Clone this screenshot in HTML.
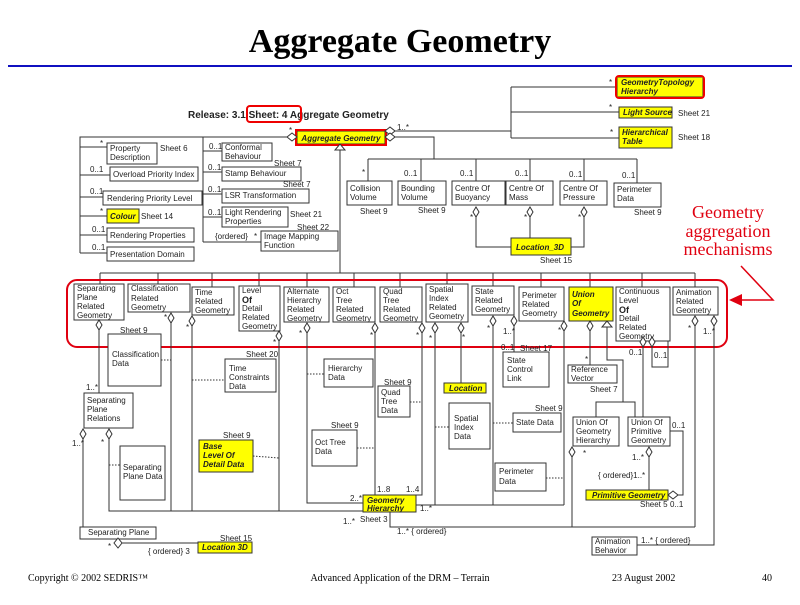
<!DOCTYPE html>
<html><head><meta charset="utf-8"><style>
body{margin:0;background:#fff;}
svg text{font-family:"Liberation Sans",sans-serif;font-size:8px;fill:#222;}
.b{fill:#fff;stroke:#333;stroke-width:1}
.y{fill:#ffff00;stroke:#333;stroke-width:1}
.l{stroke:#333;stroke-width:1;fill:none}
.d{stroke:#333;stroke-width:1;fill:none;stroke-dasharray:1.5,1.5}
.dm{fill:#fff;stroke:#333;stroke-width:1}
.yi{font-style:italic;font-weight:bold}
</style></head><body>
<svg width="800" height="600" xmlns="http://www.w3.org/2000/svg">
<text x="400" y="52" text-anchor="middle" style="font-family:'Liberation Serif',serif;font-size:34px;font-weight:bold;fill:#000">Aggregate Geometry</text>
<line x1="8" y1="66" x2="792" y2="66" stroke="#1010c0" stroke-width="2"/>

<text x="188" y="118" style="font-size:10px;font-weight:bold">Release: 3.1 Sheet: 4 Aggregate Geometry</text>
<rect x="247" y="106" width="54" height="16" rx="3" fill="none" stroke="#e00" stroke-width="2"/>

<rect x="297" y="131" width="88" height="13" class="y" stroke="#e00"/>
<rect x="296" y="130" width="90" height="15" fill="none" stroke="#e00" stroke-width="2"/>
<text x="341" y="141" text-anchor="middle" class="yi">Aggregate Geometry</text>
<polygon points="287,137 292,133 297,137 292,141" class="dm"/>
<polygon points="385,131 390,127 395,131 390,135" class="dm"/>
<polygon points="385,137 390,133 395,137 390,141" class="dm"/>
<polygon points="340,144 335,150 345,150" class="dm"/>
<line x1="340" y1="150" x2="340" y2="273" class="l"/>
<text x="289" y="133">*</text><text x="397" y="130">1..*</text>

<polyline points="287,137 80,137 80,253" class="l"/>
<line x1="80" y1="147" x2="107" y2="147" class="l"/>
<rect x="107" y="143" width="50" height="21" class="b"/><text x="110" y="151">Property</text><text x="110" y="160">Description</text>
<text x="100" y="146">*</text><text x="160" y="151">Sheet 6</text>
<line x1="80" y1="175" x2="110" y2="175" class="l"/><text x="90" y="172">0..1</text>
<rect x="110" y="167" width="88" height="14" class="b"/><text x="113" y="177">Overload Priority Index</text>
<line x1="80" y1="197" x2="103" y2="197" class="l"/><text x="90" y="194">0..1</text>
<rect x="103" y="191" width="99" height="14" class="b"/><text x="107" y="201">Rendering Priority Level</text>
<line x1="80" y1="216" x2="107" y2="216" class="l"/><text x="100" y="214">*</text>
<rect x="107" y="209" width="32" height="14" class="y"/><text x="110" y="219" class="yi">Colour</text>
<text x="141" y="219">Sheet 14</text>
<line x1="80" y1="235" x2="107" y2="235" class="l"/><text x="92" y="232">0..1</text>
<rect x="107" y="228" width="87" height="14" class="b"/><text x="110" y="238">Rendering Properties</text>
<line x1="80" y1="253" x2="107" y2="253" class="l"/><text x="92" y="250">0..1</text>
<rect x="107" y="247" width="87" height="14" class="b"/><text x="110" y="257">Presentation Domain</text>

<line x1="203" y1="137" x2="203" y2="242" class="l"/>
<line x1="203" y1="151" x2="222" y2="151" class="l"/><text x="209" y="149">0..1</text>
<rect x="222" y="143" width="50" height="18" class="b"/><text x="225" y="150">Conformal</text><text x="225" y="159">Behaviour</text>
<text x="274" y="166">Sheet 7</text>
<line x1="203" y1="172" x2="222" y2="172" class="l"/><text x="208" y="170">0..1</text>
<rect x="222" y="167" width="79" height="14" class="b"/><text x="225" y="176">Stamp Behaviour</text>
<text x="283" y="187">Sheet 7</text>
<line x1="203" y1="194" x2="222" y2="194" class="l"/><text x="208" y="192">0..1</text>
<rect x="222" y="189" width="87" height="14" class="b"/><text x="225" y="198">LSR Transformation</text>
<line x1="203" y1="217" x2="222" y2="217" class="l"/><text x="208" y="215">0..1</text>
<rect x="222" y="207" width="66" height="20" class="b"/><text x="225" y="215">Light Rendering</text><text x="225" y="224">Properties</text>
<text x="290" y="217">Sheet 21</text><text x="297" y="230">Sheet 22</text>
<line x1="203" y1="242" x2="261" y2="242" class="l"/><text x="215" y="239">{ordered}</text><text x="254" y="239">*</text>
<rect x="261" y="231" width="77" height="20" class="b"/><text x="264" y="239">Image Mapping</text><text x="264" y="248">Function</text>

<polyline points="395,131 511,131" class="l"/>
<line x1="511" y1="87" x2="511" y2="138" class="l"/>
<line x1="511" y1="87" x2="617" y2="87" class="l"/><line x1="511" y1="112" x2="619" y2="112" class="l"/><line x1="511" y1="138" x2="619" y2="138" class="l"/>
<text x="609" y="85">*</text><text x="609" y="110">*</text><text x="610" y="135">*</text>
<rect x="617" y="77" width="86" height="20" class="y"/><rect x="616" y="76" width="88" height="22" rx="3" fill="none" stroke="#e00" stroke-width="2"/>
<text x="621" y="85" class="yi">GeometryTopology</text><text x="621" y="94" class="yi">Hierarchy</text>
<rect x="619" y="107" width="53" height="11" class="y"/><text x="623" y="115" class="yi">Light Source</text>
<text x="678" y="116">Sheet 21</text>
<rect x="619" y="127" width="53" height="21" class="y"/><text x="622" y="135" class="yi">Hierarchical</text><text x="622" y="144" class="yi">Table</text>
<text x="678" y="140">Sheet 18</text>

<polyline points="395,137 434,137 434,159" class="l"/>
<line x1="368" y1="159" x2="637" y2="159" class="l"/>
<line x1="368" y1="159" x2="368" y2="181" class="l"/><line x1="421" y1="159" x2="421" y2="181" class="l"/><line x1="476" y1="159" x2="476" y2="181" class="l"/><line x1="530" y1="159" x2="530" y2="181" class="l"/><line x1="584" y1="159" x2="584" y2="181" class="l"/><line x1="637" y1="159" x2="637" y2="183" class="l"/>
<text x="362" y="175">*</text><text x="404" y="176">0..1</text><text x="460" y="176">0..1</text><text x="515" y="176">0..1</text><text x="569" y="177">0..1</text><text x="622" y="178">0..1</text>
<rect x="347" y="181" width="45" height="24" class="b"/><text x="350" y="191">Collision</text><text x="350" y="200">Volume</text>
<rect x="398" y="181" width="48" height="24" class="b"/><text x="401" y="191">Bounding</text><text x="401" y="200">Volume</text>
<rect x="452" y="181" width="53" height="24" class="b"/><text x="455" y="191">Centre Of</text><text x="455" y="200">Buoyancy</text>
<rect x="506" y="181" width="47" height="24" class="b"/><text x="509" y="191">Centre Of</text><text x="509" y="200">Mass</text>
<rect x="560" y="181" width="47" height="24" class="b"/><text x="563" y="191">Centre Of</text><text x="563" y="200">Pressure</text>
<rect x="614" y="183" width="47" height="24" class="b"/><text x="617" y="192">Perimeter</text><text x="617" y="201">Data</text>
<text x="360" y="214">Sheet 9</text><text x="418" y="213">Sheet 9</text><text x="634" y="215">Sheet 9</text>
<polygon points="476,207 479,212 476,217 473,212" class="dm"/><polygon points="530,207 533,212 530,217 527,212" class="dm"/><polygon points="584,207 587,212 584,217 581,212" class="dm"/>
<text x="470" y="220">*</text><text x="524" y="220">*</text><text x="578" y="220">*</text>
<polyline points="476,217 476,247 511,247" class="l"/><line x1="530" y1="217" x2="530" y2="238" class="l"/><polyline points="584,217 584,247 571,247" class="l"/>
<rect x="511" y="238" width="60" height="17" class="y"/><text x="516" y="250" class="yi">Location_3D</text>
<text x="540" y="263">Sheet 15</text>

<text x="728" y="218" text-anchor="middle" style="font-family:'Liberation Serif',serif;font-size:18px;fill:#e00010">Geometry</text>
<text x="728" y="237" text-anchor="middle" style="font-family:'Liberation Serif',serif;font-size:18px;fill:#e00010">aggregation</text>
<text x="728" y="255" text-anchor="middle" style="font-family:'Liberation Serif',serif;font-size:18px;fill:#e00010">mechanisms</text>
<polyline points="741,266 773,300 742,300" fill="none" stroke="#e00010" stroke-width="1.5"/>
<polygon points="729,300 742,294 742,306" fill="#e00010"/>

<line x1="100" y1="273" x2="695" y2="273" class="l"/>
<line x1="100" y1="273" x2="100" y2="284" class="l"/><line x1="158" y1="273" x2="158" y2="284" class="l"/><line x1="212" y1="273" x2="212" y2="287" class="l"/><line x1="259" y1="273" x2="259" y2="286" class="l"/><line x1="307" y1="273" x2="307" y2="287" class="l"/><line x1="354" y1="273" x2="354" y2="287" class="l"/><line x1="400" y1="273" x2="400" y2="287" class="l"/><line x1="447" y1="273" x2="447" y2="284" class="l"/><line x1="493" y1="273" x2="493" y2="286" class="l"/><line x1="541" y1="273" x2="541" y2="287" class="l"/><line x1="590" y1="273" x2="590" y2="287" class="l"/><line x1="642" y1="273" x2="642" y2="287" class="l"/><line x1="695" y1="273" x2="695" y2="287" class="l"/>

<rect x="74" y="284" width="50" height="36" class="b"/><text x="77" y="291">Separating</text><text x="77" y="300">Plane</text><text x="77" y="309">Related</text><text x="77" y="318">Geometry</text>
<rect x="128" y="284" width="62" height="28" class="b"/><text x="131" y="291">Classification</text><text x="131" y="301">Related</text><text x="131" y="310">Geometry</text>
<rect x="192" y="287" width="42" height="28" class="b"/><text x="195" y="295">Time</text><text x="195" y="304">Related</text><text x="195" y="313">Geometry</text>
<rect x="239" y="286" width="41" height="45" class="b"/><text x="242" y="293">Level</text><text x="242" y="303" style="font-size:9px;font-weight:bold">Of</text><text x="242" y="311">Detail</text><text x="242" y="320">Related</text><text x="242" y="329">Geometry</text>
<rect x="284" y="287" width="45" height="35" class="b"/><text x="287" y="294">Alternate</text><text x="287" y="303">Hierarchy</text><text x="287" y="312">Related</text><text x="287" y="321">Geometry</text>
<rect x="333" y="287" width="42" height="35" class="b"/><text x="336" y="294">Oct</text><text x="336" y="303">Tree</text><text x="336" y="312">Related</text><text x="336" y="321">Geometry</text>
<rect x="380" y="287" width="42" height="35" class="b"/><text x="383" y="294">Quad</text><text x="383" y="303">Tree</text><text x="383" y="312">Related</text><text x="383" y="321">Geometry</text>
<rect x="426" y="284" width="42" height="38" class="b"/><text x="429" y="292">Spatial</text><text x="429" y="301">Index</text><text x="429" y="310">Related</text><text x="429" y="319">Geometry</text>
<rect x="472" y="286" width="42" height="29" class="b"/><text x="475" y="294">State</text><text x="475" y="303">Related</text><text x="475" y="312">Geometry</text>
<rect x="519" y="287" width="45" height="34" class="b"/><text x="522" y="298">Perimeter</text><text x="522" y="307">Related</text><text x="522" y="316">Geometry</text>
<rect x="569" y="287" width="44" height="34" class="y"/><text x="572" y="297" class="yi">Union</text><text x="572" y="306" class="yi">Of</text><text x="572" y="316" class="yi">Geometry</text>
<rect x="616" y="287" width="54" height="54" class="b"/><text x="619" y="294">Continuous</text><text x="619" y="303">Level</text><text x="619" y="313" style="font-size:9px;font-weight:bold">Of</text><text x="619" y="321">Detail</text><text x="619" y="330">Related</text><text x="619" y="339">Geometry</text>
<rect x="673" y="287" width="45" height="28" class="b"/><text x="676" y="295">Animation</text><text x="676" y="304">Related</text><text x="676" y="313">Geometry</text>

<rect x="67" y="280" width="660" height="67" rx="10" fill="none" stroke="#e00010" stroke-width="2"/>

<polygon points="99,320 102,325 99,330 96,325" class="dm"/>
<line x1="99" y1="330" x2="99" y2="393" class="l"/><text x="86" y="390">1..*</text>
<rect x="108" y="334" width="53" height="52" class="b"/><text x="112" y="357">Classification</text><text x="112" y="366">Data</text>
<text x="120" y="333">Sheet 9</text>
<line x1="161" y1="360" x2="171" y2="360" class="d"/>
<rect x="84" y="393" width="49" height="35" class="b"/><text x="87" y="403">Separating</text><text x="87" y="412">Plane</text><text x="87" y="421">Relations</text>
<polygon points="83,429 86,434 83,439 80,434" class="dm"/><polygon points="109,429 112,434 109,439 106,434" class="dm"/>
<text x="72" y="446">1..*</text><text x="101" y="445">*</text>
<line x1="83" y1="439" x2="83" y2="527" class="l"/>
<polyline points="109,439 109,511 363,511" class="l"/>
<rect x="120" y="446" width="45" height="54" class="b"/><text x="123" y="470">Separating</text><text x="123" y="479">Plane Data</text>
<line x1="109" y1="465" x2="120" y2="465" class="d"/>
<rect x="80" y="527" width="76" height="12" class="b"/><text x="88" y="535">Separating Plane</text>
<polygon points="118,538 122,543 118,548 114,543" class="dm"/><text x="108" y="549">*</text>
<line x1="122" y1="543" x2="198" y2="543" class="l"/>
<text x="148" y="554">{ ordered} 3</text>
<rect x="198" y="542" width="54" height="11" class="y"/><text x="202" y="550" class="yi">Location 3D</text>
<text x="220" y="541">Sheet 15</text>

<polygon points="171,313 174,318 171,323 168,318" class="dm"/><line x1="171" y1="323" x2="171" y2="511" class="l"/><text x="164" y="320">*</text>
<polygon points="192,316 195,321 192,326 189,321" class="dm"/><line x1="192" y1="326" x2="192" y2="511" class="l"/><text x="186" y="330">*</text>
<rect x="225" y="359" width="51" height="33" class="b"/><text x="229" y="371">Time</text><text x="229" y="380">Constraints</text><text x="229" y="389">Data</text>
<text x="246" y="357">Sheet 20</text><line x1="192" y1="380" x2="225" y2="380" class="d"/>
<polygon points="279,331 282,336 279,341 276,336" class="dm"/><line x1="279" y1="341" x2="279" y2="511" class="l"/><text x="273" y="345">*</text>
<rect x="199" y="440" width="54" height="32" class="y"/><text x="203" y="449" class="yi">Base</text><text x="203" y="458" class="yi">Level Of</text><text x="203" y="467" class="yi">Detail Data</text>
<text x="223" y="438">Sheet 9</text><line x1="253" y1="456" x2="279" y2="458" class="d"/>

<polygon points="307,323 310,328 307,333 304,328" class="dm"/><text x="299" y="336">*</text>
<polyline points="307,333 307,503 363,503" class="l"/><text x="350" y="501">2..*</text>
<rect x="324" y="359" width="49" height="28" class="b"/><text x="328" y="371">Hierarchy</text><text x="328" y="380">Data</text>
<line x1="307" y1="374" x2="324" y2="374" class="d"/>
<polygon points="375,323 378,328 375,333 372,328" class="dm"/><text x="370" y="338">*</text>
<line x1="375" y1="333" x2="375" y2="495" class="l"/><text x="377" y="492">1..8</text>
<rect x="312" y="430" width="45" height="36" class="b"/><text x="315" y="445">Oct Tree</text><text x="315" y="454">Data</text>
<text x="331" y="428">Sheet 9</text><line x1="357" y1="448" x2="375" y2="448" class="d"/>
<polygon points="422,323 425,328 422,333 419,328" class="dm"/><text x="416" y="338">*</text>
<polyline points="422,333 422,495 416,495" class="l"/><text x="406" y="492">1..4</text>
<rect x="378" y="386" width="32" height="31" class="b"/><text x="381" y="395">Quad</text><text x="381" y="404">Tree</text><text x="381" y="413">Data</text>
<text x="384" y="385">Sheet 9</text><line x1="410" y1="402" x2="422" y2="402" class="d"/>
<rect x="363" y="495" width="53" height="17" class="y"/><text x="367" y="503" class="yi">Geometry</text><text x="367" y="511" class="yi">Hierarchy</text>
<text x="343" y="524">1..*</text><text x="360" y="522">Sheet 3</text><text x="420" y="511">1..*</text>
<polyline points="390,512 390,527 695,527" class="l"/><text x="397" y="534">1..* { ordered}</text>
<polyline points="416,505 564,505" class="l"/>

<polygon points="435,323 438,328 435,333 432,328" class="dm"/><line x1="435" y1="333" x2="435" y2="505" class="l"/><text x="429" y="341">*</text>
<polygon points="461,323 464,328 461,333 458,328" class="dm"/><line x1="461" y1="333" x2="461" y2="383" class="l"/><text x="462" y="340">*</text>
<rect x="444" y="383" width="42" height="10" class="y"/><text x="449" y="391" class="yi">Location</text>
<rect x="449" y="403" width="41" height="46" class="b"/><text x="454" y="421">Spatial</text><text x="454" y="430">Index</text><text x="454" y="439">Data</text>
<line x1="435" y1="427" x2="449" y2="427" class="d"/>
<polygon points="493,316 496,321 493,326 490,321" class="dm"/><line x1="493" y1="326" x2="493" y2="505" class="l"/><text x="487" y="331">*</text>
<polygon points="514,316 517,321 514,326 511,321" class="dm"/><line x1="514" y1="326" x2="514" y2="352" class="l"/><text x="503" y="334">1..*</text>
<text x="501" y="350">0..1</text><text x="520" y="351">Sheet 17</text>
<rect x="503" y="352" width="46" height="35" class="b"/><text x="507" y="363">State</text><text x="507" y="372">Control</text><text x="507" y="381">Link</text>
<rect x="513" y="413" width="48" height="19" class="b"/><text x="516" y="425">State Data</text>
<text x="535" y="411">Sheet 9</text><line x1="493" y1="423" x2="513" y2="423" class="d"/>
<polygon points="564,321 567,326 564,331 561,326" class="dm"/><line x1="564" y1="331" x2="564" y2="505" class="l"/><text x="558" y="333">*</text>
<rect x="495" y="463" width="51" height="28" class="b"/><text x="499" y="474">Perimeter</text><text x="499" y="484">Data</text>
<line x1="546" y1="478" x2="564" y2="478" class="d"/>

<polygon points="590,321 593,326 590,331 587,326" class="dm"/><line x1="590" y1="331" x2="590" y2="365" class="l"/><text x="585" y="362">*</text>
<rect x="568" y="365" width="49" height="18" class="b"/><text x="571" y="372">Reference</text><text x="571" y="381">Vector</text>
<text x="590" y="392">Sheet 7</text>
<polygon points="607,321 602,327 612,327" class="dm"/>
<polyline points="607,327 607,360 623,360 623,402" class="l"/>
<polyline points="596,417 596,402 635,402 635,417" class="l"/>
<rect x="573" y="417" width="46" height="29" class="b"/><text x="576" y="425">Union Of</text><text x="576" y="434">Geometry</text><text x="576" y="443">Hierarchy</text>
<rect x="628" y="417" width="42" height="29" class="b"/><text x="631" y="425">Union Of</text><text x="631" y="434">Primitive</text><text x="631" y="443">Geometry</text>
<polygon points="643,337 646,342 643,347 640,342" class="dm"/><line x1="643" y1="347" x2="643" y2="417" class="l"/><text x="629" y="355">0..1</text>
<polygon points="652,337 655,342 652,347 649,342" class="dm"/><polyline points="652,347 652,367 668,367 668,341" class="l"/><text x="654" y="358">0..1</text>
<polygon points="572,447 575,452 572,457 569,452" class="dm"/><polyline points="572,457 572,527" class="l"/><text x="583" y="456">*</text>
<polygon points="649,447 652,452 649,457 646,452" class="dm"/><line x1="649" y1="457" x2="649" y2="490" class="l"/><text x="632" y="460">1..*</text>
<text x="598" y="478">{ ordered}1..*</text>
<rect x="586" y="490" width="82" height="10" class="y"/><text x="592" y="498" class="yi">Primitive Geometry</text>
<polygon points="668,495 673,491 678,495 673,499" class="dm"/><polyline points="678,495 683,495 683,431 670,431" class="l"/>
<text x="672" y="428">0..1</text><text x="670" y="507">0..1</text><text x="640" y="507">Sheet 5</text>
<polygon points="695,316 698,321 695,326 692,321" class="dm"/><line x1="695" y1="326" x2="695" y2="527" class="l"/><text x="688" y="331">*</text>
<polygon points="714,316 717,321 714,326 711,321" class="dm"/><polyline points="714,326 714,545 637,545" class="l"/><text x="703" y="334">1..*</text>
<rect x="592" y="537" width="45" height="18" class="b"/><text x="595" y="544">Animation</text><text x="595" y="553">Behavior</text>
<text x="641" y="543">1..*  { ordered}</text>

<text x="28" y="581" style="font-family:'Liberation Serif',serif;font-size:10px;fill:#000">Copyright © 2002 SEDRIS™</text>
<text x="400" y="581" text-anchor="middle" style="font-family:'Liberation Serif',serif;font-size:10px;fill:#000">Advanced Application of the DRM – Terrain</text>
<text x="612" y="581" style="font-family:'Liberation Serif',serif;font-size:10px;fill:#000">23 August 2002</text>
<text x="762" y="581" style="font-family:'Liberation Serif',serif;font-size:10px;fill:#000">40</text>
</svg>
</body></html>
